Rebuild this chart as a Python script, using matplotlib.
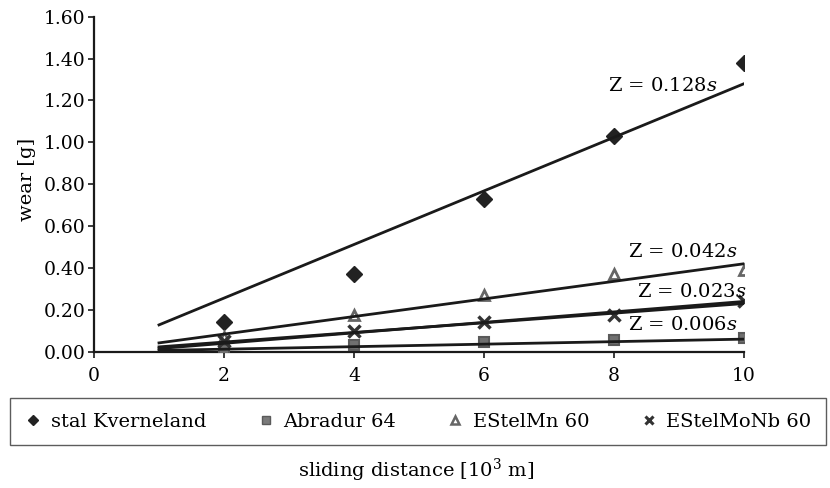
import matplotlib
matplotlib.use("Agg")
import matplotlib.pyplot as plt
import numpy as np
from matplotlib.lines import Line2D

plt.rcParams['font.family'] = ['DejaVu Serif']
plt.rcParams['mathtext.fontset'] = 'dejavuserif'

distance = [2, 4, 6, 8, 10]
series_names = ["stal Kverneland", "Abradur 64", "EStelMn 60", "EStelMoNb 60"]
wear_kverneland = [0.14, 0.37, 0.73, 1.03, 1.38]
wear_abradur = [0.01, 0.03, 0.045, 0.056, 0.067]
wear_mn = [0.07, 0.175, 0.27, 0.37, 0.39]
wear_monb = [0.05, 0.10, 0.143, 0.175, 0.24]

# trend lines Z = k*s, drawn from s=1 to s=10
trend_slopes = [0.128, 0.006, 0.042, 0.023]
trend_labels = ["0.128", "0.006", "0.042", "0.023"]
trend_label_pos = [(7.9, 1.27), (8.22, 0.127), (8.22, 0.476), (8.36, 0.287)]
trend_range = [1, 10]
# second fit of EStelMoNb 60 (with intercept), almost on top of the 0.023 line
extra_slope, extra_intercept = 0.025, -0.01

fig = plt.figure(figsize=(8.3, 4.88), dpi=100)
ax = fig.add_axes([94 / 830, 1 - 351.7 / 488, 650 / 830, 335 / 488])

styles = [
    dict(marker='D', color='#222222', markersize=8.5, linestyle='none'),
    dict(marker='s', color='#707070', markeredgecolor='#5a5a5a', markersize=7,
         markeredgewidth=1.5, linestyle='none'),
    dict(marker='^', color='#666666', markerfacecolor='white', markersize=7.5,
         markeredgewidth=2, linestyle='none'),
    dict(marker='x', color='#333333', markersize=8, markeredgewidth=2.5,
         linestyle='none'),
]
all_wear = [wear_kverneland, wear_abradur, wear_mn, wear_monb]

for wear, st in zip(all_wear, styles):
    ax.plot(distance, wear, zorder=3, **st)

xs = np.array(trend_range, dtype=float)
for k, lab, pos in zip(trend_slopes, trend_labels, trend_label_pos):
    ax.plot(xs, k * xs, color='#1a1a1a', linewidth=2.0, zorder=4)
    ax.text(pos[0], pos[1], "Z = " + lab + r"$\it{s}$", fontsize=14,
            va='center', ha='left', zorder=5)
ax.plot(xs, extra_slope * xs + extra_intercept, color='#1a1a1a',
        linewidth=2.0, zorder=4)

ax.set_xlim(0, 10)
ax.set_ylim(0, 1.6)
ax.set_xticks([0, 2, 4, 6, 8, 10])
ax.set_yticks(np.arange(0, 1.61, 0.2))
ax.set_yticklabels([f"{v:.2f}" for v in np.arange(0, 1.61, 0.2)])
ax.tick_params(axis='both', labelsize=13.5, width=1.2, length=4, color='#1a1a1a')
ax.tick_params(axis='x', pad=7)
ax.tick_params(axis='y', pad=2)
for side in ['top', 'right']:
    ax.spines[side].set_visible(False)
for side in ['left', 'bottom']:
    ax.spines[side].set_linewidth(1.6)
    ax.spines[side].set_color('#1a1a1a')

fig.text(27 / 830, 1 - 179 / 488, "wear [g]", rotation=90, fontsize=14,
         ha='center', va='center')
fig.text(416 / 830, 1 - 470 / 488, r"sliding distance [10$^3$ m]", fontsize=14,
         ha='center', va='center')

handles = [
    Line2D([], [], marker='D', color='#222222', markersize=5.5, linestyle='none'),
    Line2D([], [], marker='s', color='#7a7a7a', markeredgecolor='#5a5a5a',
           markersize=6, linestyle='none'),
    Line2D([], [], marker='^', color='#666666', markerfacecolor='white',
           markersize=5.5, markeredgewidth=1.8, linestyle='none'),
    Line2D([], [], marker='x', color='#333333', markersize=6,
           markeredgewidth=2.2, linestyle='none'),
]
leg = fig.legend(handles, series_names, loc='upper left',
                 bbox_to_anchor=(10 / 830, 1 - 398 / 488), ncol=4,
                 fontsize=14, frameon=True, fancybox=False, handlelength=0.9,
                 handletextpad=0.45, columnspacing=2.6, borderpad=0.75,
                 borderaxespad=0)
leg.get_frame().set_edgecolor('#333333')
leg.get_frame().set_linewidth(1.0)

fig.savefig("out.png", dpi=100)
